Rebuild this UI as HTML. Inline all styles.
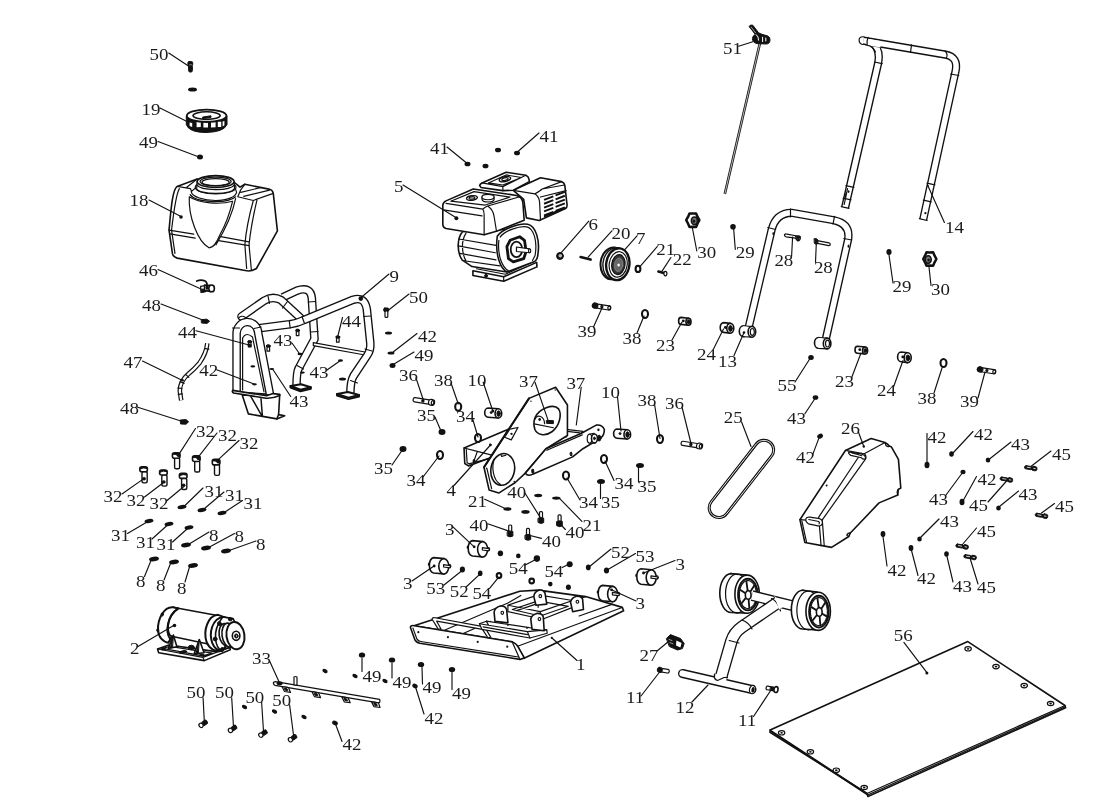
<!DOCTYPE html>
<html lang="en">
<head>
<meta charset="utf-8">
<title>Plate compactor exploded parts diagram</title>
<style>
html,body{margin:0;padding:0;background:#fff;}
body{width:1112px;height:812px;overflow:hidden;font-family:"Liberation Serif",serif;}
svg{display:block;will-change:transform;}
text{font-family:"Liberation Serif",serif;font-size:17.2px;fill:#1c1c1c;}
.k{stroke:#111;stroke-width:1.15;fill:none;stroke-linecap:round;}
.d{fill:#111;stroke:none;}
.r{fill:#fff;stroke:#111;}
#parts *{vector-effect:non-scaling-stroke;stroke-linejoin:round;stroke-linecap:round;}
.p{fill:none;stroke:#111;stroke-width:1.2;}
.pw{fill:#fff;stroke:#111;stroke-width:1.2;}
.pb{fill:#111;stroke:#111;stroke-width:1;}
.t{fill:none;stroke:#222;stroke-width:.8;}
.tw{fill:#fff;stroke:#222;stroke-width:.7;}
.h{fill:none;stroke:#111;stroke-width:1.6;}
.hw{fill:#fff;stroke:#111;stroke-width:1.6;}
</style>
</head>
<body>
<svg width="1112" height="812" viewBox="0 0 1112 812">
<rect width="1112" height="812" fill="#fff"/>
<g id="parts">
<g id="a18_tank">
<g transform="translate(155 165) scale(0.14784)">
<path class="hw" d="M150,145 C118,165 108,300 95,440 L118,600 Q124,622 150,630 L610,714 Q650,724 686,700 L828,446 L800,192 Q796,170 770,163 L608,130 L575,150 L540,120 L285,95 Z"/>
<path class="p" d="M150,145 L240,160 L250,185 M285,95 L215,150 M165,160 C140,200 125,330 112,440 L135,598"/>
<path class="p" d="M608,130 L580,168 L560,215 L665,240 L800,192 M665,240 C640,330 615,450 608,540 L620,700 M690,236 C665,340 645,450 636,540 L652,712 M580,185 L720,152 M600,212 L775,170"/>
<path class="p" d="M95,440 L262,468 M100,466 L272,494 M445,485 L636,520 M430,512 L636,545"/>
<path class="pw" d="M232,215 C225,350 290,520 365,560 C400,560 420,520 440,470 C480,400 510,310 525,245 C440,270 300,260 232,215 Z"/>
<path class="p" d="M545,228 C525,330 485,420 412,540"/>
<path class="pw" d="M245,180 C250,215 330,240 410,240 C490,240 545,215 552,185 L540,150 L280,150 Z"/>
<path class="p" d="M238,200 C270,250 480,270 545,215"/>
<ellipse class="pw" cx="410" cy="150" rx="138" ry="45"/>
<path class="pw" d="M285,112 L282,160 C300,200 510,205 538,160 L535,112 Z"/>
<path class="p" d="M283,135 C310,175 505,180 537,135"/>
<ellipse class="hw" cx="410" cy="112" rx="125" ry="40"/>
<ellipse class="p" cx="410" cy="112" rx="105" ry="30"/>
<ellipse class="p" cx="410" cy="116" rx="92" ry="24"/>
</g>
</g>
<g id="b05_engine">
<g transform="translate(430 165) scale(0.16016)">
<!-- base -->
<path class="hw" d="M268,660 L460,698 L666,608 L668,636 L460,726 L268,690 Z"/>
<path class="p" d="M460,698 L460,726 M290,648 L470,682 L650,600"/>
<ellipse class="pb" cx="350" cy="692" rx="9" ry="9"/>
<!-- crankcase left (finned) -->
<path class="hw" d="M205,415 C170,450 165,540 200,592 L262,634 L480,668 L520,400 Z"/>
<path class="p" d="M180,462 L412,502 M176,505 L408,548 M186,552 L412,592 M212,598 L436,630 M225,425 C195,470 195,545 225,600"/>
<!-- crankcase right face -->
<path class="hw" d="M420,445 C450,400 560,360 610,370 C660,380 690,470 672,570 C668,590 655,602 645,606 L482,668 C440,650 405,560 420,445 Z"/>
<path class="p" d="M438,450 C465,410 560,378 604,386 C648,396 672,475 656,565 L640,596 M430,470 C420,560 450,640 490,660"/>
<!-- PTO flange -->
<path class="hw" style="stroke-width:2.8" d="M500,470 L560,448 L590,470 L600,540 L585,585 L520,605 L490,585 L480,510 Z"/>
<ellipse class="p" style="stroke-width:1.8" cx="540" cy="527" rx="36" ry="48"/>
<path class="pw" d="M540,512 L622,524 L622,548 L540,540 Z"/>
<ellipse class="pw" cx="622" cy="536" rx="7" ry="12"/>
<!-- muffler -->
<path class="hw" d="M520,158 L690,80 L822,104 Q840,110 842,130 L856,250 Q856,266 846,272 L682,346 L602,330 L585,215 Z"/>
<path class="p" d="M520,158 L655,180 Q690,160 700,150 L822,104 M655,180 Q682,200 684,230 L690,344 M700,150 L840,125 M690,200 L850,160"/>
<path class="p" style="stroke-width:1.9;stroke-linecap:butt" d="M712,218 L770,196 M784,190 L842,168 M712,242 L770,220 M784,214 L842,192 M712,266 L770,244 M784,238 L842,216 M712,290 L770,268 M784,262 L842,240 M712,314 L770,292 M784,286 L842,264 M712,322 L846,268"/>
<!-- air filter box -->
<path class="hw" d="M310,128 Q312,118 325,112 L475,45 L598,64 Q615,70 618,88 L620,104 L520,158 L455,160 L318,140 Z"/>
<path class="p" d="M325,112 L455,135 L598,64 M455,135 L455,160 M365,112 L475,62 L570,78 L455,125 Z"/>
<ellipse class="p" style="stroke-width:1.4" cx="468" cy="88" rx="36" ry="15" transform="rotate(-12 468 88)"/>
<ellipse class="p" cx="468" cy="88" rx="20" ry="8" transform="rotate(-12 468 88)"/>
<!-- fuel tank -->
<path class="hw" d="M80,250 Q82,232 100,224 L270,150 L540,190 Q575,200 580,235 L588,345 L420,412 L338,436 L100,396 Q80,390 80,372 Z"/>
<path class="p" d="M100,240 L330,275 Q345,262 360,256 L555,200 M330,275 Q338,290 338,310 L338,436 M360,256 Q395,280 400,320 L415,412 M84,280 L325,318 M130,226 L275,166 L500,200 L345,250 Z"/>
<ellipse class="p" style="stroke-width:1.4" cx="262" cy="206" rx="34" ry="14" transform="rotate(-8 262 206)"/>
<ellipse class="p" cx="262" cy="206" rx="18" ry="7" transform="rotate(-8 262 206)"/>
<path class="pw" d="M325,200 L325,216 C330,236 395,236 400,216 L400,200 Z"/>
<ellipse class="pw" cx="362" cy="200" rx="38" ry="17"/>
</g>
</g>
<g id="c09_frame">
<path d="M282.6,297.3 L297,290.6 Q310.5,286 311.8,298 L314.5,339 L298.6,368.5 Q296.6,372 296.5,386" style="stroke-linecap:butt;stroke-linejoin:round;fill:none;stroke:#111;stroke-width:8.6"/><path d="M282.6,297.3 L297,290.6 Q310.5,286 311.8,298 L314.5,339 L298.6,368.5 Q296.6,372 296.5,386" style="stroke-linecap:butt;stroke-linejoin:round;fill:none;stroke:#fff;stroke-width:5.9"/>
<path class="hw" style="stroke-width:2" d="M290.5,386 L301,384.2 L310.8,387.2 L300.5,389.8 Z"/><path class="h" style="stroke-width:2" d="M290.5,386 L290.5,387.5 L300.5,391.3 L310.8,388.7 L310.8,387.2"/>
<path d="M241.5,316.5 L264,300.8 Q272.5,295.5 281,300 L300,317.5" style="stroke-linecap:round;stroke-linejoin:round;fill:none;stroke:#111;stroke-width:8.6"/><path d="M241.5,316.5 L264,300.8 Q272.5,295.5 281,300 L300,317.5" style="stroke-linecap:round;stroke-linejoin:round;fill:none;stroke:#fff;stroke-width:5.9"/>
<path class="pw" d="M313.3,342.6 L365,352 L365,355 L313.3,345.6 Z"/>
<path d="M259,328.2 L289.7,324.3 Q298,323 304,320 L353,299.8 Q364.5,296 366.8,309 L370.3,343 Q370.8,350 367.5,355 L353.5,376 Q350.5,381 350.3,393.5" style="stroke-linecap:butt;stroke-linejoin:round;fill:none;stroke:#111;stroke-width:8.6"/><path d="M259,328.2 L289.7,324.3 Q298,323 304,320 L353,299.8 Q364.5,296 366.8,309 L370.3,343 Q370.8,350 367.5,355 L353.5,376 Q350.5,381 350.3,393.5" style="stroke-linecap:butt;stroke-linejoin:round;fill:none;stroke:#fff;stroke-width:5.9"/>
<path class="hw" style="stroke-width:2" d="M337,394 L348,392 L359,395 L348.5,397.6 Z"/><path class="h" style="stroke-width:2" d="M337,394 L337,395.5 L348.5,399.1 L359,396.5 L359,395"/>
<path class="pw" d="M236,392 L236,334 A10.8,11.5 0 0 1 257.5,333 L269.4,394 Z"/>
<path d="M236.6,391.5 L236.6,334 A10.8,11.5 0 0 1 258.2,333 L270,394.5" style="stroke-linecap:butt;stroke-linejoin:round;fill:none;stroke:#111;stroke-width:8.6"/><path d="M236.6,391.5 L236.6,334 A10.8,11.5 0 0 1 258.2,333 L270,394.5" style="stroke-linecap:butt;stroke-linejoin:round;fill:none;stroke:#fff;stroke-width:5.9"/>
<path class="p" d="M242.6,390 L242.6,338 Q246,331.5 252.5,337 L264,392"/>
<path class="hw" style="stroke-width:1.6" d="M242.3,395.2 L248.4,413.9 L276.8,418.9 L284.7,415.7 L278.6,414.6 L279.7,394.8 Z"/>
<path class="h" style="stroke-width:1.5" d="M250.9,396.6 L261.7,415.6 M261,398.8 L262.4,416 M278.6,414.6 L276.8,418.9"/>
<path class="hw" style="stroke-width:1.6" d="M232.8,390.4 L266.5,395.8 L273,393.6 L279.7,394.4 L279.7,395.6 Q273,398.6 266,398.2 L233.6,393 Q231.6,391.6 232.8,390.4 Z"/>
<path class="p" d="M232.5,328 L239.5,328 M254,328.5 L261,327 M239,317.5 Q242,315 245.5,317.5 M289.2,320.5 L290.2,328 M302,316.5 L304.5,323.5 M363.5,316.5 L370.5,316 M365,349 L372,351 M350.5,380.5 L357.5,383 M308.3,302 L315.5,301.5 M310.5,332 L318,331.5 M297,365.5 L303.5,369 M268,296 L269.5,303.5 M287.5,301.5 L282.5,308"/>
<path class="pw" d="M248.39999999999998,342.3 L248.39999999999998,346.90000000000003 L251.0,346.90000000000003 L251.0,342.3"/><ellipse class="pb" cx="249.7" cy="341.7" rx="2" ry="1.3"/>
<path class="pw" d="M267.0,346.6 L267.0,351.20000000000005 L269.6,351.20000000000005 L269.6,346.6"/><ellipse class="pb" cx="268.3" cy="346.0" rx="2" ry="1.3"/>
<path class="pw" d="M296.3,331 L296.3,335.6 L298.90000000000003,335.6 L298.90000000000003,331"/><ellipse class="pb" cx="297.6" cy="330.4" rx="2" ry="1.3"/>
<path class="pw" d="M336.5,337.6 L336.5,342.20000000000005 L339.1,342.20000000000005 L339.1,337.6"/><ellipse class="pb" cx="337.8" cy="337.0" rx="2" ry="1.3"/>
<ellipse class="d" cx="249.7" cy="345.5" rx="2" ry="1.8"/>
<ellipse class="d" cx="252.8" cy="366.4" rx="2.4" ry="1.1"/>
<ellipse class="d" cx="254.5" cy="384.3" rx="2.4" ry="1.1"/>
<ellipse class="d" cx="302.4" cy="372.6" rx="2.4" ry="1.1"/>
<ellipse class="d" cx="271.7" cy="369" rx="2.4" ry="1.1"/>
</g>
<g id="d04_bracket">
<g transform="translate(450 400) scale(0.14771)">
<!-- left channel box -->
<path class="hw" d="M95,325 L395,198 L300,380 L165,432 L125,446 L100,430 Z"/>
<path class="p" d="M110,335 L116,425 L128,432 M95,325 L185,348 L290,375 M185,348 L160,420 M128,432 L285,392"/>
<path class="pb" d="M158,405 q8,-8 10,4 l-2,16 q-6,6 -8,-2 z"/>
<ellipse class="d" cx="272" cy="302" rx="7" ry="7"/>
<!-- main plate -->
<path class="hw" d="M535,-11 L715,-86 L795,34 L795,240 L650,330 L510,495 L440,560 L330,630 L265,610 L230,455 Z"/>
<path class="h" style="stroke-width:2" d="M535,-11 L230,455"/>
<path class="p" d="M250,465 L282,600"/>
<path class="pw" d="M405,197 L460,186 L415,270 L370,252 Z"/>
<path class="pb" d="M412,228 l8,-4 l0,8 z"/>
<!-- upper window -->
<path class="hw" d="M575,120 C600,60 700,20 735,60 C760,100 740,180 690,215 C640,250 590,235 575,200 C565,170 565,150 575,120 Z"/>
<path class="p" d="M570,162 L700,188 M575,130 C590,90 640,110 640,160"/>
<ellipse class="d" cx="607" cy="132" rx="9" ry="10"/>
<path class="pb" d="M655,138 L700,140 L700,160 L655,158 Z"/>
<!-- lower round hole -->
<ellipse class="hw" cx="357" cy="470" rx="80" ry="108" transform="rotate(10 357 470)"/>
<path class="p" d="M300,400 C280,450 290,540 340,570 M345,372 L350,382 L378,374"/>
<ellipse class="d" cx="247" cy="462" rx="5" ry="5"/><ellipse class="d" cx="435" cy="552" rx="5" ry="5"/><ellipse class="d" cx="548" cy="8" rx="5" ry="5"/><ellipse class="d" cx="712" cy="-68" rx="5" ry="5"/><ellipse class="d" cx="785" cy="250" rx="5" ry="5"/>
<!-- arm -->
<path class="hw" d="M650,330 L890,225 L990,170 Q1030,165 1045,200 Q1045,240 1020,258 L900,330 L830,385 L560,502 Q525,520 510,495 Z"/>
<path class="p" d="M655,340 L895,236 M800,200 L900,212 L890,225 M795,212 L880,222"/>
<path class="pb" d="M555,470 q10,-8 12,4 l0,20 q-8,6 -12,-2 z M815,355 q8,-8 10,4 l0,18 q-6,6 -10,-2 z"/>
<ellipse class="d" cx="1005" cy="202" rx="8" ry="9"/>
<ellipse class="pb" cx="1010" cy="258" rx="12" ry="20"/>
<path class="pw" d="M940,232 L975,225 L985,290 L950,292 Z"/>
<ellipse class="pw" cx="945" cy="262" rx="16" ry="30"/>
<ellipse class="hw" cx="978" cy="260" rx="20" ry="30"/>
<ellipse class="pb" cx="978" cy="260" rx="6" ry="9"/>
</g>
</g>
<g id="e01_base">
<g transform="translate(400 575) scale(0.21583)">
<!-- main plate -->
<path class="hw" d="M65,235 L555,75 L640,70 L860,100 L1030,150 L1036,166 L575,386 L545,330 L520,310 Z"/>
<path class="p" d="M545,330 L1026,152 M200,258 L500,130 M290,272 L420,215 M830,190 L985,135 M860,100 L700,150 M500,130 L560,95"/>
<!-- front lip -->
<path class="hw" d="M48,242 Q50,232 66,235 L520,310 Q538,316 545,330 L576,384 L556,391 L92,316 Q74,312 68,298 Z"/>
<path class="p" d="M60,246 L78,296 Q84,306 96,308 L548,380 M520,310 L556,391"/>
<ellipse class="d" cx="85" cy="265" rx="5" ry="5"/><ellipse class="d" cx="222" cy="288" rx="5" ry="5"/><ellipse class="d" cx="360" cy="310" rx="5" ry="5"/><ellipse class="d" cx="497" cy="332" rx="5" ry="5"/>
<ellipse class="d" cx="703" cy="291" rx="5" ry="5"/>
<!-- guard rail -->
<path class="pw" d="M148,204 Q150,196 162,198 L392,240 L420,288 L408,292 L382,252 L170,214 L190,250 L178,252 Z"/>
<!-- rear frame -->
<path class="pw" d="M500,140 L640,92 L800,118 L800,150 L660,205 L500,170 Z"/>
<path class="p" d="M520,160 L640,120 L780,145 L650,190 Z M540,165 L650,128 M640,120 L640,150 M500,140 L650,170 L800,118 M650,170 L650,190"/>
<!-- front block -->
<path class="pw" d="M368,226 L400,214 L600,244 L680,254 L682,270 L602,292 L380,252 Z"/>
<path class="p" d="M368,226 L590,262 L680,254 M590,262 L602,292 M400,214 L410,232 M385,240 L590,276"/>
<ellipse class="d" cx="402" cy="216" rx="4" ry="4"/><ellipse class="d" cx="500" cy="232" rx="4" ry="4"/><ellipse class="d" cx="588" cy="246" rx="4" ry="4"/>
<!-- lugs -->
<path class="hw" d="M620,100 Q622,78 645,70 Q665,66 672,84 L680,135 L630,140 Z"/><ellipse class="p" cx="650" cy="98" rx="6" ry="7"/>
<path class="hw" d="M790,125 Q795,104 818,98 Q840,96 846,112 L850,160 L800,170 Z"/><ellipse class="p" cx="822" cy="124" rx="6" ry="7"/>
<path class="hw" d="M436,172 Q440,150 465,144 Q488,142 494,160 L500,222 L440,215 Z"/><ellipse class="p" cx="474" cy="175" rx="6" ry="7"/>
<path class="hw" d="M606,204 Q610,184 634,178 Q660,176 664,196 L668,258 L612,252 Z"/><ellipse class="p" cx="646" cy="204" rx="6" ry="7"/>
</g>
</g>
<g id="f02_motor">
<g transform="translate(150 595) scale(0.09443)">
<!-- base -->
<path class="hw" d="M80,572 L200,530 L700,600 L845,555 L850,580 L575,695 L92,612 Z"/>
<path class="p" d="M80,572 L560,660 L845,555 M560,660 L575,695 M130,565 L210,545 L660,615 L560,645 Z"/>
<ellipse class="pb" cx="140" cy="572" rx="22" ry="10"/><ellipse class="pb" cx="350" cy="604" rx="40" ry="14" transform="rotate(-12 350 604)"/><ellipse class="pb" cx="548" cy="634" rx="22" ry="10"/>
<ellipse class="pb" cx="438" cy="556" rx="32" ry="24"/>
<!-- body -->
<path class="hw" style="stroke:none" d="M240,130 L700,215 L660,540 L200,440 Z"/>
<path class="h" d="M240,130 L700,215 M215,435 L640,525"/>
<!-- left end cap -->
<path class="hw" style="stroke-width:2" d="M245,130 C150,120 80,250 85,370 C90,450 140,500 195,505 L230,440 C170,420 165,230 300,142 Z"/>
<path class="h" style="stroke-width:1.8" d="M300,142 C190,210 150,380 215,470"/>
<ellipse class="pb" cx="130" cy="205" rx="12" ry="18"/><ellipse class="pb" cx="82" cy="372" rx="10" ry="18"/>
<!-- gussets -->
<path class="hw" d="M248,425 L195,565 L285,548 Z M522,472 L468,622 L572,612 Z"/>
<path class="pb" d="M248,425 L215,560 L235,558 Z M522,472 L488,618 L508,616 Z"/>
<!-- right flange -->
<path class="hw" style="stroke-width:2" d="M720,210 C610,220 560,380 600,500 C630,580 700,600 740,595 L800,560 L800,240 Z"/>
<path class="h" style="stroke-width:2" d="M770,232 C660,250 620,400 660,510 C680,560 720,590 760,592"/>
<path class="hw" d="M770,232 L880,250 L900,290 L800,540 L760,592 C700,560 640,400 770,232 Z"/>
<ellipse class="pb" cx="735" cy="302" rx="20" ry="20"/><ellipse class="pb" cx="690" cy="466" rx="20" ry="20"/><ellipse class="pb" cx="766" cy="576" rx="20" ry="20"/><ellipse class="pb" cx="850" cy="256" rx="20" ry="18"/>
<!-- pulley -->
<ellipse class="hw" cx="800" cy="420" rx="68" ry="118" transform="rotate(-8 800 420)"/>
<ellipse class="hw" cx="835" cy="425" rx="72" ry="128" transform="rotate(-8 835 425)"/>
<ellipse class="hw" style="stroke-width:2" cx="905" cy="430" rx="95" ry="145" transform="rotate(-8 905 430)"/>
<ellipse class="h" cx="912" cy="432" rx="40" ry="48"/>
<ellipse class="pb" cx="914" cy="434" rx="18" ry="22"/>
<ellipse cx="916" cy="434" rx="6" ry="8" fill="#fff"/>
</g>
</g>
<g id="g33_bar">
<path class="pw" d="M273.5,682.2 Q273,684.5 275,685.3 L378.5,702.8 Q380,702.6 380,701 L379.6,699.4 L275.5,681.6 Z"/>
<path class="pw" d="M294,677 Q295.5,676 297,677 L297,685.3 L294,684.8 Z"/>
<path class="pw" d="M282,686.6 L284.5,691.5 L290.5,692.4 L288.5,687.6 Z M312,691.7 L314.5,696.7 L320.5,697.6 L318.5,692.8 Z M341.7,696.8 L344.2,701.8 L350.2,702.7 L348.2,697.9 Z M371.5,701.8 L374,706.6 L380,707.5 L378.5,702.9 Z"/>
<path class="pb" d="M284.6,688.3 l2.4,.4 l.8,1.9 l-2.4,-.4 z M314.6,693.4 l2.4,.4 l.8,1.9 l-2.4,-.4 z M344.3,698.5 l2.4,.4 l.8,1.9 l-2.4,-.4 z M374.1,703.4 l2.4,.4 l.8,1.9 l-2.4,-.4 z"/>
<ellipse class="d" cx="279.6" cy="683.2" rx="3" ry="2"/>
</g>
<g id="h25_belt">
<g transform="translate(741.4 478.9) rotate(37.9)">
<rect x="-9.7" y="-46.4" width="19.4" height="92.8" rx="9.7" fill="none" stroke="#111" stroke-width="3"/>
<rect x="-9.7" y="-46.4" width="19.4" height="92.8" rx="9.7" fill="none" stroke="#fff" stroke-width="1"/>
<rect x="-9.1" y="-45.8" width="18.2" height="91.6" rx="9.1" fill="none" stroke="#111" stroke-width=".4"/>
</g>
</g>
<g id="i26_cover">
<g transform="translate(700 400) scale(0.19784)">
<path class="hw" d="M505,605 L735,255 L865,195 L935,215 Q950,222 956,232 L968,238 L1003,300 L1015,445 L1002,452 L1000,480 L905,520 L760,672 L752,690 L665,745 L530,720 Z"/>
<path class="p" d="M735,255 L830,272 L935,215 M830,272 Q842,280 838,296 L618,606 L628,738 M815,268 L600,592 L612,736 M505,605 L600,612 L618,606 M515,612 L538,716 M935,215 L940,230 Q950,240 958,234 M1002,452 Q992,462 1000,480 M760,672 Q745,672 742,684 L752,690"/>
<path class="pw" d="M752,262 L820,274 Q840,282 836,298 Q822,300 816,292 L762,280 Q748,272 752,262 Z"/>
<path class="p" d="M765,266 L818,282"/>
<path class="pw" d="M535,600 Q540,590 555,592 L605,600 Q622,606 618,626 Q610,640 596,636 L548,626 Q532,616 535,600 Z"/>
<path class="p" d="M550,604 L600,614 Q606,618 602,626"/>
<ellipse class="d" cx="640" cy="432" rx="5" ry="5"/>
</g>
</g>
<g id="j12_wheels">
<g transform="translate(650 560) scale(0.17986)"><ellipse class="hw" cx="452" cy="184" rx="64" ry="108"/><path class="pw" d="M452,76 L540,84 L540,296 L452,292 Z" style="stroke:none"/><path class="h" d="M447,76 L535,83 M457,292 L545,296"/><ellipse class="p" cx="484.0" cy="187.0" rx="64" ry="108"/><ellipse class="hw" cx="540" cy="190" rx="68" ry="106"/><ellipse class="h" style="stroke-width:2" cx="544" cy="192" rx="54" ry="88"/><ellipse class="p" style="stroke-dasharray:1.2 1" cx="544" cy="192" rx="47" ry="78"/><path class="h" style="stroke-width:1.8" d="M546,194 L585,217"/><path class="h" style="stroke-width:1.8" d="M546,194 L552,265"/><path class="h" style="stroke-width:1.8" d="M546,194 L510,240"/><path class="h" style="stroke-width:1.8" d="M546,194 L503,167"/><path class="h" style="stroke-width:1.8" d="M546,194 L536,119"/><path class="h" style="stroke-width:1.8" d="M546,194 L578,144"/><ellipse class="hw" cx="546" cy="194" rx="16" ry="24"/></g>
<path d="M752,595.6 L799,607.2" style="stroke-linecap:butt;stroke-linejoin:round;fill:none;stroke:#111;stroke-width:10.8"/><path d="M752,595.6 L799,607.2" style="stroke-linecap:butt;stroke-linejoin:round;fill:none;stroke:#fff;stroke-width:8.1"/>
<path d="M720.5,679 L731.3,641.5 Q734,632.5 742,627 L778.5,602" style="stroke-linecap:butt;stroke-linejoin:round;fill:none;stroke:#111;stroke-width:12.8"/><path d="M720.5,679 L731.3,641.5 Q734,632.5 742,627 L778.5,602" style="stroke-linecap:butt;stroke-linejoin:round;fill:none;stroke:#fff;stroke-width:10.1"/>
<path class="p" d="M771.5,598.5 Q778,601.5 780.5,611 M742,620 Q749,622.5 752,629 M729.2,640.5 L739,643"/>
<path d="M774,595 L783,607 L779,609.5" fill="#fff" stroke="none"/>
<g transform="translate(650 560) scale(0.17986)"><ellipse class="hw" cx="850" cy="276" rx="64" ry="108"/><path class="pw" d="M850,168 L935,179 L935,391 L850,384 Z" style="stroke:none"/><path class="h" d="M845,168 L930,178 M855,384 L940,391"/><ellipse class="p" cx="880.5" cy="280.5" rx="64" ry="108"/><ellipse class="hw" cx="935" cy="285" rx="68" ry="106"/><ellipse class="h" style="stroke-width:2" cx="939" cy="287" rx="54" ry="88"/><ellipse class="p" style="stroke-dasharray:1.2 1" cx="939" cy="287" rx="47" ry="78"/><path class="h" style="stroke-width:1.8" d="M941,289 L980,312"/><path class="h" style="stroke-width:1.8" d="M941,289 L947,360"/><path class="h" style="stroke-width:1.8" d="M941,289 L905,335"/><path class="h" style="stroke-width:1.8" d="M941,289 L898,262"/><path class="h" style="stroke-width:1.8" d="M941,289 L931,214"/><path class="h" style="stroke-width:1.8" d="M941,289 L973,239"/><ellipse class="hw" cx="941" cy="289" rx="16" ry="24"/></g>
<path d="M682.5,673.5 L752,689.5" style="stroke-linecap:round;stroke-linejoin:round;fill:none;stroke:#111;stroke-width:9"/><path d="M682.5,673.5 L752,689.5" style="stroke-linecap:round;stroke-linejoin:round;fill:none;stroke:#fff;stroke-width:6.3"/>
<ellipse class="pw" cx="752.5" cy="689.6" rx="3" ry="4.2" transform="rotate(10 752.5 689.6)"/><ellipse class="d" cx="753" cy="689.8" rx="1.6" ry="2.8" transform="rotate(10 753 689.8)"/>
<path d="M715.5,673.8 L727,676.5 L726,681.5 L714.5,679 Z" fill="#fff" stroke="none"/>
<path class="p" d="M714.5,674 Q713.5,679.5 717.5,680.5 Q721,679 724,677.5 L727.5,677.3"/>
</g>
<g id="k13_handles">
<path d="M845.1,207.5 L878.3,62.5 Q880.5,52 874,43.5" style="stroke-linecap:butt;stroke-linejoin:round;fill:none;stroke:#111;stroke-width:8.2"/><path d="M845.1,207.5 L878.3,62.5 Q880.5,52 874,43.5" style="stroke-linecap:butt;stroke-linejoin:round;fill:none;stroke:#fff;stroke-width:5.5"/>
<path d="M863.3,40.6 L945.5,54.6 Q958.5,57 955.6,71 L923.2,219.6" style="stroke-linecap:butt;stroke-linejoin:round;fill:none;stroke:#111;stroke-width:8.2"/><path d="M863.3,40.6 L945.5,54.6 Q958.5,57 955.6,71 L923.2,219.6" style="stroke-linecap:butt;stroke-linejoin:round;fill:none;stroke:#fff;stroke-width:5.5"/>
<path class="pw" d="M863.8,36.8 Q859.1,36.4 859.1,40 Q859.1,43.8 862.8,44.5"/>
<path d="M866,38.5 L881.3,41.2 L880.3,47.4 L866,45 Z" fill="#fff" stroke="none"/>
<path class="p" d="M866,44.8 Q873,46 875.5,52 M868,37.4 Q866.5,41 867.2,44.8 M911.5,44.8 L910.5,52.5 M874.4,62 L882.2,63.6 M950.6,74 L958.8,75.5 M945,51 Q948.5,54.5 946.2,58.2 M845.9,185.6 L853.9,187.4 M927,183.1 L934.9,184.9 M843.1,198.1 L851,199.9 M923.3,200.1 L931.2,201.9 M841.2,206.6 L849,208.4 M919.3,218.7 L927.1,220.5"/>
<ellipse class="d" cx="848.6" cy="191.6" rx=".9" ry="1.3"/><ellipse class="d" cx="925.4" cy="213.2" rx="1.1" ry="1.1"/><path class="p" d="M847.6,188.5 L844.2,204.5 M846,193 L844.8,199"/>
<path d="M748.4,328.5 L771.7,229.5 Q776,213 791.5,212.8 L834,220.3 Q851,224 848,240 L825.6,340" style="stroke-linecap:butt;stroke-linejoin:round;fill:none;stroke:#111;stroke-width:8.2"/><path d="M748.4,328.5 L771.7,229.5 Q776,213 791.5,212.8 L834,220.3 Q851,224 848,240 L825.6,340" style="stroke-linecap:butt;stroke-linejoin:round;fill:none;stroke:#fff;stroke-width:5.5"/>
<path class="p" d="M790.5,208.8 L790.5,216.8 M834.5,216.4 L833,224.2 M767.8,227.5 L775.6,229.5 M843.8,238.5 L851.8,240"/>
<ellipse class="d" cx="773.2" cy="233.6" rx=".8" ry="1.6"/><ellipse class="d" cx="848.4" cy="246.2" rx=".8" ry="1.6"/>
<path class="pw" d="M743.5,325.9 L751.5,326.5 L751.5,337.1 L743.5,336.5 Z" style="stroke:none"/><ellipse class="hw" cx="743.5" cy="331.2" rx="4.2" ry="5.4"/><path class="pw" d="M743.5,325.8 L751.9,326.5 L751.9,337.2 L743.5,336.6" /><path d="M743.1,326.3 L747.5,326.7 L747.5,336.3 L743.1,336.1 Z" fill="#fff" stroke="none"/><ellipse class="hw" cx="751.9" cy="331.8" rx="3.8" ry="5.4"/><ellipse class="p" cx="752.3" cy="331.9" rx="2" ry="3.4"/>
<path class="pw" d="M818.7,337.59999999999997 L826.7,338.2 L826.7,348.8 L818.7,348.2 Z" style="stroke:none"/><ellipse class="hw" cx="818.7" cy="342.9" rx="4.2" ry="5.4"/><path class="pw" d="M818.7,337.5 L827.1,338.2 L827.1,348.9 L818.7,348.3" /><path d="M818.3000000000001,338.0 L822.7,338.4 L822.7,348.0 L818.3000000000001,347.8 Z" fill="#fff" stroke="none"/><ellipse class="hw" cx="827.1" cy="343.5" rx="3.8" ry="5.4"/><ellipse class="p" cx="827.5" cy="343.59999999999997" rx="2" ry="3.4"/>
<ellipse class="d" cx="744" cy="332.5" rx="1.3" ry="1.3"/>
</g>
<g id="m_smalls">
<path class="hw" d="M967.8,641.6 L1065,705.5 L1065.6,707.8 L867.9,796.4 L867,793.5 L770,732.2 L770.1,729.9 Z"/>
<path class="p" d="M770.1,729.9 L867,793.5 L1065,705.5 M771,731.5 L867.6,795 L1065.4,706.8"/>
<ellipse class="pw" cx="968.1" cy="648.8" rx="3.2" ry="2.2"/><ellipse class="d" cx="968.1" cy="648.8" rx="1.3" ry=".9"/>
<ellipse class="pw" cx="996" cy="666.6" rx="3.2" ry="2.2"/><ellipse class="d" cx="996" cy="666.6" rx="1.3" ry=".9"/>
<ellipse class="pw" cx="1024.2" cy="685.6" rx="3.2" ry="2.2"/><ellipse class="d" cx="1024.2" cy="685.6" rx="1.3" ry=".9"/>
<ellipse class="pw" cx="1050.6" cy="703.5" rx="3.2" ry="2.2"/><ellipse class="d" cx="1050.6" cy="703.5" rx="1.3" ry=".9"/>
<ellipse class="pw" cx="781.6" cy="732.8" rx="3.2" ry="2.2"/><ellipse class="d" cx="781.6" cy="732.8" rx="1.3" ry=".9"/>
<ellipse class="pw" cx="810.4" cy="751.8" rx="3.2" ry="2.2"/><ellipse class="d" cx="810.4" cy="751.8" rx="1.3" ry=".9"/>
<ellipse class="pw" cx="836.3" cy="770.2" rx="3.2" ry="2.2"/><ellipse class="d" cx="836.3" cy="770.2" rx="1.3" ry=".9"/>
<ellipse class="pw" cx="864.2" cy="787.5" rx="3.2" ry="2.2"/><ellipse class="d" cx="864.2" cy="787.5" rx="1.3" ry=".9"/>
<path d="M760.3,41.5 L724.8,194" style="stroke:#111;stroke-width:2.6;fill:none;stroke-linecap:butt"/><path d="M760.3,41.5 L724.8,194" style="stroke:#fff;stroke-width:.7;fill:none;stroke-linecap:butt"/>
<path class="pb" d="M749.2,26.2 Q750.5,24.4 752.8,25.2 L758.6,32.8 Q762,34.6 765,35.2 Q770,35.8 770,39.8 Q770,44.2 765.5,44 L757,43.6 Q752.4,42.6 752.4,38.6 Q752.6,35.6 755,34.4 Z"/>
<path d="M756.2,34.6 Q758.8,36.4 758.6,40.2 M762.6,37.2 L762.6,41.6 M765.8,38 L765.8,41" style="stroke:#fff;stroke-width:1;fill:none"/><path d="M751.3,27.2 L755.6,32.8" style="stroke:#fff;stroke-width:.6;fill:none"/>
<rect class="pb" x="187.9" y="61.6" width="4.8" height="4" rx="1.2"/><rect class="pb" x="188.6" y="65" width="3.8" height="7" rx="1.4"/><path d="M189.6,64.8 L191.6,64.8" style="stroke:#fff;stroke-width:.5"/>
<path class="pb" d="M186.3,116 L186.3,124.5 Q189,132.5 206,132.5 Q224,132 227,124.5 L227,116 Z"/>
<path d="M196.6,121.6 L200.79999999999998,121.8 L200.79999999999998,127.0 L196.6,127.2 Z" fill="#fff"/>
<path d="M203.4,121.6 L208.0,121.8 L208.0,127.4 L203.4,127.6 Z" fill="#fff"/>
<path d="M211,121.6 L215.6,121.8 L215.6,127.3 L211,127.5 Z" fill="#fff"/>
<path d="M217.8,121.6 L221.20000000000002,121.8 L221.20000000000002,126.9 L217.8,127.1 Z" fill="#fff"/>
<path d="M189.6,122.4 l2.6,.6 l0,4 l-2.6,-1 z M222.6,121.6 l1.8,-.6 l0,4.4 l-1.8,.8 z" fill="#fff"/>
<ellipse class="hw" style="stroke-width:1.8" cx="206.6" cy="115.8" rx="19.8" ry="6.2"/>
<ellipse class="p" style="stroke-width:1.6" cx="206.6" cy="115.6" rx="13.6" ry="3.8"/>
<path class="pb" d="M203,117 L211,115.8 L211,117.4 L203,118.6 Z"/>
<path class="h" style="stroke-width:1.8" d="M196.8,281 Q201,279 205.5,281.2 Q207.5,283 207,286"/>
<path class="pw" d="M200.6,286.4 L205.2,285.6 L205.6,291.6 L201,292.4 Z"/><ellipse class="pb" cx="203" cy="290.6" rx="2" ry="1.6"/>
<path class="hw" d="M204.6,285 L211,285.6 L211,291.4 L204.6,290.6 Z"/><ellipse class="hw" style="stroke-width:1.6" cx="211.6" cy="288.4" rx="2.8" ry="3.4"/><ellipse class="d" cx="207" cy="287.6" rx="1.4" ry="2.4"/>
<path d="M207.3,343.2 Q206.5,353 199.5,363 Q194,369.5 188.8,373.6 Q180,381 179.8,391 L181.2,400.4" style="stroke-linecap:butt;stroke-linejoin:round;fill:none;stroke:#111;stroke-width:4.6"/><path d="M207.3,343.2 Q206.5,353 199.5,363 Q194,369.5 188.8,373.6 Q180,381 179.8,391 L181.2,400.4" style="stroke-linecap:butt;stroke-linejoin:round;fill:none;stroke:#fff;stroke-width:2.2"/>
<path class="p" d="M205,348.6 L208.8,349.2 M185.6,374.4 L188.8,377.4 M180.2,381.6 L184,383.4 M177.8,388 L181.8,388.4 M178.2,394.4 L182.2,393.8"/><ellipse class="d" cx="182.5" cy="380.2" rx="1.3" ry="1.3"/>
<rect class="hw" style="stroke-width:1.4" x="174.6" y="457.4" width="5" height="11.4" rx="1.6"/><rect class="hw" x="172.4" y="452.7" width="7.6" height="5.6" rx="2"/><path class="pb" d="M173,454.0 Q176,451.59999999999997 179.6,453.4 L179.8,456.0 Q177.6,457.79999999999995 176.4,454.79999999999995 Z"/>
<rect class="hw" style="stroke-width:1.4" x="194.7" y="460.6" width="5" height="11.4" rx="1.6"/><rect class="hw" x="192.5" y="455.90000000000003" width="7.6" height="5.6" rx="2"/><path class="pb" d="M193.1,457.20000000000005 Q196.1,454.8 199.7,456.6 L199.9,459.20000000000005 Q197.7,461.0 196.5,458.0 Z"/>
<rect class="hw" style="stroke-width:1.4" x="214.5" y="464" width="5" height="11.4" rx="1.6"/><rect class="hw" x="212.3" y="459.3" width="7.6" height="5.6" rx="2"/><path class="pb" d="M212.9,460.6 Q215.9,458.2 219.5,460 L219.70000000000002,462.6 Q217.5,464.4 216.3,461.4 Z"/>
<rect class="hw" style="stroke-width:1.4" x="142.0" y="471.5" width="5.2" height="11.4" rx="1.8"/><rect class="hw" x="139.8" y="466.8" width="7.6" height="5" rx="2"/><path class="pb" d="M140.20000000000002,468.1 Q143.4,465.5 147.20000000000002,467.9 L147.0,468.5 Q143.4,467.1 140.4,468.9 Z"/><ellipse class="d" cx="144.0" cy="478.7" rx="1.9" ry="1.7"/>
<rect class="hw" style="stroke-width:1.4" x="161.79999999999998" y="474.7" width="5.2" height="11.4" rx="1.8"/><rect class="hw" x="159.6" y="470.0" width="7.6" height="5" rx="2"/><path class="pb" d="M160.0,471.3 Q163.2,468.7 167.0,471.09999999999997 L166.79999999999998,471.7 Q163.2,470.3 160.2,472.09999999999997 Z"/><ellipse class="d" cx="163.79999999999998" cy="481.9" rx="1.9" ry="1.7"/>
<rect class="hw" style="stroke-width:1.4" x="181.6" y="478.1" width="5.2" height="11.4" rx="1.8"/><rect class="hw" x="179.4" y="473.40000000000003" width="7.6" height="5" rx="2"/><path class="pb" d="M179.8,474.70000000000005 Q183,472.1 186.8,474.5 L186.6,475.1 Q183,473.70000000000005 180,475.5 Z"/><ellipse class="d" cx="183.6" cy="485.3" rx="1.9" ry="1.7"/>
<ellipse class="pb" cx="560" cy="256" rx="3.4" ry="3.5"/><ellipse cx="560.3" cy="255.8" rx="1.8" ry="1.7" fill="#bbb"/>
<path d="M580.6,257 L590.6,259.6" style="stroke:#111;stroke-width:2.6;stroke-linecap:round"/>
<ellipse class="hw" style="stroke-width:2" cx="612.6" cy="263.4" rx="12" ry="16" transform="rotate(8 612.6 263.4)"/>
<ellipse class="hw" style="stroke-width:1.4" cx="614.8" cy="263.8" rx="11.8" ry="16" transform="rotate(8 614.8 263.8)"/>
<ellipse class="hw" style="stroke-width:2.4" cx="617.8" cy="264.2" rx="11.6" ry="16" transform="rotate(8 617.8 264.2)"/>
<ellipse class="p" style="stroke-width:1.2" cx="618.2" cy="264.4" rx="9" ry="12.8" transform="rotate(8 618.2 264.4)"/>
<ellipse cx="618.4" cy="264.6" rx="6.6" ry="10" transform="rotate(8 618.4 264.6)" style="fill:#333;stroke:#111;stroke-width:1.2"/>
<ellipse cx="618.6" cy="264.8" rx="4.2" ry="6.8" transform="rotate(8 618.6 264.8)" style="fill:#666;stroke:#999;stroke-width:.6"/>
<ellipse cx="618.6" cy="265" rx="1.3" ry="1.6" fill="#fff"/>
<path d="M658.4,271.6 L665.6,273.6" style="stroke:#111;stroke-width:2.6;stroke-linecap:round"/><ellipse class="r" cx="665.4" cy="273.6" rx="1.5" ry="2.2" stroke-width="1.2"/>
<polygon class="hw" style="stroke-width:2.5" points="699.4,220.2 697.6,223.5 696.1,227.0 692.8,226.8 689.5,227.0 688.0,223.5 686.2,220.2 688.0,216.9 689.5,213.4 692.8,213.6 696.1,213.4 697.6,216.9"/>
<ellipse cx="694.4" cy="220.79999999999998" rx="3" ry="3.8" style="fill:#777;stroke:#111;stroke-width:1.6"/>
<ellipse class="d" cx="694.0" cy="221.2" rx="1.3" ry="1.6"/>
<polygon class="hw" style="stroke-width:2.5" points="936.4,259.0 934.6,262.3 933.1,265.8 929.8,265.6 926.5,265.8 925.0,262.3 923.2,259.0 925.0,255.7 926.5,252.2 929.8,252.4 933.1,252.2 934.6,255.7"/>
<ellipse cx="928.1999999999999" cy="259.6" rx="3" ry="3.8" style="fill:#777;stroke:#111;stroke-width:1.6"/>
<ellipse class="d" cx="928.5999999999999" cy="260" rx="1.3" ry="1.6"/>
<path class="pw" d="M784.4,234.6 Q785.6,233.6 787,234.2 L797,236 Q800.6,235.4 800.4,238 Q799.6,241.2 797.6,240.8 Q796,239.2 795.6,238.2 L786,236.8 Q784.2,236 784.4,234.6 Z"/><path class="pb" d="M795.6,236 L800.2,236.4 L797.8,240.6 Z"/>
<path class="pw" d="M816,240.4 L829,242.8 Q830.8,243.6 830.2,245 Q829,246 827.6,245.4 L816,243.2 Z"/><path class="pb" d="M814.4,238.6 Q817.6,238 818,240.6 L817.8,243.6 Q816,245 814.6,243.6 Z"/>
<g transform="translate(592.4 305.2) rotate(9)"><rect class="pw" x="0" y="-2" width="18.6" height="4.2" rx="2"/><rect class="pb" x="0" y="-2.6" width="5.6" height="5.2" rx="2"/><ellipse class="d" cx="9.6" cy="0" rx="1.6" ry="1.6"/><ellipse class="p" cx="17" cy="0" rx="1.3" ry="2"/></g>
<g transform="translate(977.4 369) rotate(9)"><rect class="pw" x="0" y="-2" width="18.6" height="4.2" rx="2"/><rect class="pb" x="0" y="-2.6" width="5.6" height="5.2" rx="2"/><ellipse class="d" cx="9.6" cy="0" rx="1.6" ry="1.6"/><ellipse class="p" cx="17" cy="0" rx="1.3" ry="2"/></g>
<g transform="translate(413.2 399.4) rotate(9)"><rect class="pw" x="0" y="-2" width="19" height="4.2" rx="1.6"/><rect class="pw" x="15.6" y="-2.8" width="6" height="5.8" rx="2.4"/><ellipse class="d" cx="9.8" cy="0" rx="1.7" ry="1.7"/><ellipse class="p" cx="19.6" cy="0.2" rx="1.2" ry="2"/></g>
<g transform="translate(681.2 443) rotate(9)"><rect class="pw" x="0" y="-2" width="19" height="4.2" rx="1.6"/><rect class="pw" x="15.6" y="-2.8" width="6" height="5.8" rx="2.4"/><ellipse class="d" cx="9.8" cy="0" rx="1.7" ry="1.7"/><ellipse class="p" cx="19.6" cy="0.2" rx="1.2" ry="2"/></g>
<path class="hw" d="M681.12,317.4 L688.48,318.2 L688.48,325.2 L681.12,324.4 A2.52,3.5 0 0 1 681.12,317.4 Z"/>
<ellipse class="hw" cx="688.48" cy="321.7" rx="2.52" ry="3.5"/>
<ellipse class="pb" cx="688.6800000000001" cy="321.9" rx="1.3" ry="2.1"/>
<ellipse class="d" cx="683.312" cy="320.9" rx="1.4" ry="1.4"/>
<path class="hw" d="M857.52,346.2 L865.08,347.0 L865.08,354.0 L857.52,353.2 A2.52,3.5 0 0 1 857.52,346.2 Z"/>
<ellipse class="hw" cx="865.08" cy="350.5" rx="2.52" ry="3.5"/>
<ellipse class="pb" cx="865.2800000000001" cy="350.7" rx="1.3" ry="2.1"/>
<ellipse class="d" cx="859.788" cy="349.7" rx="1.4" ry="1.4"/>
<path class="hw" d="M723.7280000000001,322.6 L730.272,323.40000000000003 L730.272,333.20000000000005 L723.7280000000001,332.40000000000003 A3.528,4.9 0 0 1 723.7280000000001,322.6 Z"/>
<ellipse class="hw" cx="730.272" cy="328.3" rx="3.528" ry="4.9"/>
<ellipse class="pb" cx="730.4720000000001" cy="328.5" rx="1.8" ry="2.9"/>
<ellipse class="d" cx="725.368" cy="327.5" rx="1.4" ry="1.4"/>
<path class="hw" d="M901.128,352 L907.672,352.8 L907.672,362.6 L901.128,361.8 A3.528,4.9 0 0 1 901.128,352 Z"/>
<ellipse class="hw" cx="907.672" cy="357.7" rx="3.528" ry="4.9"/>
<ellipse class="pb" cx="907.8720000000001" cy="357.9" rx="1.8" ry="2.9"/>
<ellipse class="d" cx="902.768" cy="356.9" rx="1.4" ry="1.4"/>
<path class="hw" d="M488.012,408 L498.388,408.8 L498.388,418.0 L488.012,417.2 A3.312,4.6 0 0 1 488.012,408 Z"/>
<ellipse class="hw" cx="498.388" cy="413.40000000000003" rx="3.312" ry="4.6"/>
<ellipse class="pb" cx="498.58799999999997" cy="413.6" rx="1.7" ry="2.8"/>
<ellipse class="d" cx="491.15999999999997" cy="412.6" rx="1.4" ry="1.4"/>
<path class="hw" d="M616.912,429 L627.288,429.8 L627.288,439.0 L616.912,438.2 A3.312,4.6 0 0 1 616.912,429 Z"/>
<ellipse class="hw" cx="627.288" cy="434.40000000000003" rx="3.312" ry="4.6"/>
<ellipse class="pb" cx="627.488" cy="434.6" rx="1.7" ry="2.8"/>
<ellipse class="d" cx="620.0600000000001" cy="433.6" rx="1.4" ry="1.4"/>
<path class="pw" d="M484,546.8000000000001 L489.2,547.8000000000001 Q490.2,549.2 489.2,550.4 L484,549.6 Z"/>
<path class="hw" d="M472.4,540.6 L483,541.6 L483,557.0 L472.4,556.0 A5,7.8 0 0 1 472.4,540.6 Z"/>
<ellipse class="hw" cx="482.6" cy="549.3000000000001" rx="5" ry="7.7"/>
<path class="pw" d="M482.4,547.6 L488.8,548.6 Q489.8,549.8000000000001 488.8,550.8000000000001 L482.4,550.0 Z"/>
<ellipse class="d" cx="467.6" cy="547.2" rx=".9" ry="1.6"/>
<path class="pw" d="M445.2,563.8000000000001 L450.4,564.8000000000001 Q451.4,566.2 450.4,567.4 L445.2,566.6 Z"/>
<path class="hw" d="M433.59999999999997,557.6 L444.2,558.6 L444.2,574.0 L433.59999999999997,573.0 A5,7.8 0 0 1 433.59999999999997,557.6 Z"/>
<ellipse class="hw" cx="443.8" cy="566.3000000000001" rx="5" ry="7.7"/>
<path class="pw" d="M443.59999999999997,564.6 L450.0,565.6 Q451.0,566.8000000000001 450.0,567.8000000000001 L443.59999999999997,567.0 Z"/>
<ellipse class="d" cx="428.8" cy="564.2" rx=".9" ry="1.6"/>
<path class="pw" d="M652.6,575.0 L657.8000000000001,576.0 Q658.8000000000001,577.4 657.8000000000001,578.5999999999999 L652.6,577.8 Z"/>
<path class="hw" d="M641.0,568.8 L651.6,569.8 L651.6,585.1999999999999 L641.0,584.1999999999999 A5,7.8 0 0 1 641.0,568.8 Z"/>
<ellipse class="hw" cx="651.2" cy="577.5" rx="5" ry="7.7"/>
<path class="pw" d="M651.0,575.8 L657.4,576.8 Q658.4,578.0 657.4,579.0 L651.0,578.1999999999999 Z"/>
<ellipse class="d" cx="636.2" cy="575.4" rx=".9" ry="1.6"/>
<path class="pw" d="M614,591.6 L619.2,592.6 Q620.2,594.0 619.2,595.1999999999999 L614,594.4 Z"/>
<path class="hw" d="M602.4,585.4 L613,586.4 L613,601.8 L602.4,600.8 A5,7.8 0 0 1 602.4,585.4 Z"/>
<ellipse class="hw" cx="612.6" cy="594.1" rx="5" ry="7.7"/>
<path class="pw" d="M612.4,592.4 L618.8,593.4 Q619.8,594.6 618.8,595.6 L612.4,594.8 Z"/>
<ellipse class="d" cx="597.6" cy="592.0" rx=".9" ry="1.6"/>
<rect class="pw" x="539.5" y="511.6" width="3" height="8.6" rx="1"/><path class="pb" d="M538.3,518.2 Q541,516.8000000000001 543.7,518.2 L543.7,522.6 Q541,524.4 538.3,522.6 Z"/>
<rect class="pw" x="508.7" y="525" width="3" height="8.6" rx="1"/><path class="pb" d="M507.5,531.6 Q510.2,530.2 512.9,531.6 L512.9,536 Q510.2,537.8 507.5,536 Z"/>
<rect class="pw" x="526.5" y="528.4" width="3" height="8.6" rx="1"/><path class="pb" d="M525.3,535.0 Q528,533.6 530.7,535.0 L530.7,539.4 Q528,541.1999999999999 525.3,539.4 Z"/>
<rect class="pw" x="558.1" y="514.8" width="3" height="8.6" rx="1"/><path class="pb" d="M556.9,521.4 Q559.6,520.0 562.3000000000001,521.4 L562.3000000000001,525.8 Q559.6,527.5999999999999 556.9,525.8 Z"/>
<g transform="translate(1030.7 468) rotate(9)"><rect class="pb" x="-6.2" y="-1.6" width="8" height="3.2" rx="1.5"/><rect class="pb" x="1" y="-2.1" width="5.4" height="4.2" rx="1.8"/><path d="M-3.6,-.2 L-.4,-.2 M3,-.1 L4.6,-.1" style="stroke:#fff;stroke-width:.8"/></g>
<g transform="translate(1006.3 479.4) rotate(9)"><rect class="pb" x="-6.2" y="-1.6" width="8" height="3.2" rx="1.5"/><rect class="pb" x="1" y="-2.1" width="5.4" height="4.2" rx="1.8"/><path d="M-3.6,-.2 L-.4,-.2 M3,-.1 L4.6,-.1" style="stroke:#fff;stroke-width:.8"/></g>
<g transform="translate(1041.4 515.6) rotate(9)"><rect class="pb" x="-6.2" y="-1.6" width="8" height="3.2" rx="1.5"/><rect class="pb" x="1" y="-2.1" width="5.4" height="4.2" rx="1.8"/><path d="M-3.6,-.2 L-.4,-.2 M3,-.1 L4.6,-.1" style="stroke:#fff;stroke-width:.8"/></g>
<g transform="translate(962 546.4) rotate(9)"><rect class="pb" x="-6.2" y="-1.6" width="8" height="3.2" rx="1.5"/><rect class="pb" x="1" y="-2.1" width="5.4" height="4.2" rx="1.8"/><path d="M-3.6,-.2 L-.4,-.2 M3,-.1 L4.6,-.1" style="stroke:#fff;stroke-width:.8"/></g>
<g transform="translate(970 557) rotate(9)"><rect class="pb" x="-6.2" y="-1.6" width="8" height="3.2" rx="1.5"/><rect class="pb" x="1" y="-2.1" width="5.4" height="4.2" rx="1.8"/><path d="M-3.6,-.2 L-.4,-.2 M3,-.1 L4.6,-.1" style="stroke:#fff;stroke-width:.8"/></g>
<g transform="translate(657.4 669.4) rotate(9)"><rect class="pw" x="2" y="-1.6" width="10" height="3.6" rx="1.6"/><rect class="pb" x="0" y="-2.4" width="5" height="5" rx="2"/></g>
<g transform="translate(766.2 687.6) rotate(9)"><rect class="pw" x="0" y="-1.6" width="9" height="3.6" rx="1.2"/><rect class="pb" x="4.4" y="-1.4" width="3" height="3.2"/><ellipse class="hw" cx="10" cy=".4" rx="2" ry="3"/></g>
<path class="pb" d="M666.6,638.4 L670.4,634.6 L680.6,638.6 L684.2,643.6 L682.4,648.6 L677.6,650 L669.6,646.6 Z"/>
<path d="M676.4,640.6 L681.6,643 L680.4,647.4 L676,645.4 Z" fill="#fff"/><path d="M669,639.4 l3,1.2 M670,642.6 l3,1.2" style="stroke:#fff;stroke-width:.6"/>
<rect class="pb" x="383.7" y="308" width="5" height="3.6" rx="1.2"/><rect class="pw" x="385" y="311" width="2.8" height="6.4" rx="1"/>
<path class="pb" d="M201.6,319.6 L206.8,319.2 L209.6,321.2 L207,323.4 L201.8,323 Z"/><path class="pb" d="M180.6,420 L186,419.6 L188.6,421.8 L186,424.2 L181,424 Z"/>
</g>
</g>
<g id="small">
<ellipse class="d" cx="200" cy="157" rx="3" ry="2.5"/>
<ellipse class="d" cx="192.5" cy="89.5" rx="4.5" ry="2"/>
<ellipse class="d" cx="181" cy="217" rx="1.8" ry="1.8"/>
<ellipse class="d" cx="182" cy="507" rx="4.5" ry="2" transform="rotate(-8 182 507)"/>
<ellipse class="d" cx="202" cy="510" rx="4.5" ry="2" transform="rotate(-8 202 510)"/>
<ellipse class="d" cx="222" cy="513" rx="4.5" ry="2" transform="rotate(-8 222 513)"/>
<ellipse class="d" cx="149" cy="521" rx="4.5" ry="2" transform="rotate(-8 149 521)"/>
<ellipse class="d" cx="169" cy="524" rx="4.5" ry="2" transform="rotate(-8 169 524)"/>
<ellipse class="d" cx="189" cy="527.5" rx="4.5" ry="2" transform="rotate(-8 189 527.5)"/>
<ellipse class="d" cx="186" cy="545" rx="5" ry="2.3" transform="rotate(-8 186 545)"/>
<ellipse class="d" cx="206" cy="548" rx="5" ry="2.3" transform="rotate(-8 206 548)"/>
<ellipse class="d" cx="226" cy="551" rx="5" ry="2.3" transform="rotate(-8 226 551)"/>
<ellipse class="d" cx="154" cy="559" rx="5" ry="2.3" transform="rotate(-8 154 559)"/>
<ellipse class="d" cx="174" cy="562" rx="5" ry="2.3" transform="rotate(-8 174 562)"/>
<ellipse class="d" cx="193" cy="565.5" rx="5" ry="2.3" transform="rotate(-8 193 565.5)"/>
<ellipse class="d" cx="174.5" cy="625.5" rx="1.8" ry="1.8"/>
<ellipse class="d" cx="244.5" cy="707" rx="2.8" ry="1.8" transform="rotate(25 244.5 707)"/>
<ellipse class="d" cx="274.5" cy="711.5" rx="2.8" ry="1.8" transform="rotate(25 274.5 711.5)"/>
<ellipse class="d" cx="467.5" cy="164" rx="3" ry="2.3"/>
<ellipse class="d" cx="485.5" cy="166" rx="3" ry="2.3"/>
<ellipse class="d" cx="498" cy="150" rx="3" ry="2.3"/>
<ellipse class="d" cx="517" cy="153" rx="3" ry="2.3"/>
<ellipse class="d" cx="456.4" cy="218.2" rx="2" ry="2"/>
<ellipse class="d" cx="360.8" cy="298.6" rx="2.3" ry="2.3"/>
<ellipse class="d" cx="388.5" cy="333" rx="3.5" ry="1.5"/>
<ellipse class="d" cx="391" cy="353" rx="3.5" ry="1.6"/>
<ellipse class="d" cx="392.5" cy="365.5" rx="3" ry="2.5"/>
<ellipse class="d" cx="300" cy="354" rx="2.5" ry="1.3"/>
<ellipse class="d" cx="340.5" cy="360.5" rx="2.5" ry="1.3"/>
<ellipse class="d" cx="342.5" cy="379" rx="3.5" ry="1.5"/>
<ellipse class="r" cx="458.2" cy="406.8" rx="3" ry="4" stroke-width="2.1"/>
<ellipse class="d" cx="492.8" cy="411" rx="1.5" ry="1.5"/>
<ellipse class="d" cx="442" cy="432" rx="3.5" ry="3"/>
<ellipse class="r" cx="478" cy="438" rx="3.0" ry="4" stroke-width="2.1"/>
<ellipse class="d" cx="403" cy="449" rx="3.5" ry="3"/>
<ellipse class="r" cx="440" cy="455" rx="3.0" ry="4.0" stroke-width="2.1"/>
<ellipse class="d" cx="490.5" cy="445" rx="1.3" ry="1.3"/>
<ellipse class="d" cx="507.4" cy="509" rx="4" ry="1.7"/>
<ellipse class="d" cx="538.2" cy="495.5" rx="4" ry="1.7"/>
<ellipse class="d" cx="556.3" cy="498.1" rx="4.2" ry="1.7"/>
<ellipse class="d" cx="525.5" cy="511.9" rx="4.2" ry="1.8"/>
<ellipse class="d" cx="474.2" cy="546.8" rx="1.4" ry="1.4"/>
<ellipse class="d" cx="434.2" cy="566" rx="1.4" ry="1.4"/>
<ellipse class="d" cx="462.4" cy="569.5" rx="2.6" ry="3"/>
<ellipse class="d" cx="480.2" cy="573.2" rx="2.3" ry="2.8"/>
<ellipse class="r" cx="499" cy="575.6" rx="2.3" ry="2.5" stroke-width="2.1"/>
<ellipse class="d" cx="536.9" cy="558.6" rx="3.2" ry="3.3"/>
<ellipse class="d" cx="500.4" cy="553.3" rx="2.7" ry="2.9"/>
<ellipse class="d" cx="518.3" cy="555.9" rx="2.3" ry="2.4"/>
<ellipse class="r" cx="531.7" cy="581" rx="2.3" ry="2.4" stroke-width="2.1"/>
<ellipse class="d" cx="550.3" cy="584.1" rx="2.3" ry="2.4"/>
<ellipse class="d" cx="568.4" cy="587.3" rx="2.5" ry="2.7"/>
<ellipse class="d" cx="362" cy="655" rx="3.2" ry="2.6"/>
<ellipse class="d" cx="392" cy="660" rx="3.2" ry="2.6"/>
<ellipse class="d" cx="421" cy="664.5" rx="3.2" ry="2.6"/>
<ellipse class="d" cx="452" cy="669.5" rx="3.2" ry="2.6"/>
<ellipse class="d" cx="325" cy="671" rx="2.8" ry="1.8" transform="rotate(25 325 671)"/>
<ellipse class="d" cx="355" cy="676" rx="2.8" ry="1.8" transform="rotate(25 355 676)"/>
<ellipse class="d" cx="385" cy="681" rx="2.8" ry="1.8" transform="rotate(25 385 681)"/>
<ellipse class="d" cx="415" cy="686" rx="2.8" ry="2.2" transform="rotate(25 415 686)"/>
<ellipse class="d" cx="304" cy="717" rx="2.8" ry="1.8" transform="rotate(25 304 717)"/>
<ellipse class="d" cx="335" cy="723" rx="3" ry="2.2" transform="rotate(25 335 723)"/>
<ellipse class="r" cx="638" cy="268.9" rx="2.4" ry="3.1" stroke-width="2.1"/>
<ellipse class="d" cx="733" cy="226.8" rx="2.8" ry="2.8"/>
<ellipse class="r" cx="645" cy="314" rx="3.0" ry="4.0" stroke-width="2.1"/>
<ellipse class="d" cx="811" cy="357.5" rx="2.8" ry="2.5"/>
<ellipse class="r" cx="660" cy="439" rx="3.0" ry="4.0" stroke-width="2.1"/>
<ellipse class="d" cx="815.5" cy="397.5" rx="2.8" ry="2.3"/>
<ellipse class="d" cx="820.1" cy="436.2" rx="3" ry="2.3" transform="rotate(-30 820.1 436.2)"/>
<ellipse class="r" cx="604" cy="459" rx="3.0" ry="4.0" stroke-width="2.1"/>
<ellipse class="d" cx="640" cy="465.5" rx="4" ry="2.5"/>
<ellipse class="r" cx="566" cy="475.5" rx="3.0" ry="4.0" stroke-width="2.1"/>
<ellipse class="d" cx="601" cy="481.5" rx="4" ry="2.5"/>
<ellipse class="d" cx="588.3" cy="567.4" rx="2.4" ry="2.8"/>
<ellipse class="d" cx="606.5" cy="570.5" rx="2.6" ry="3"/>
<ellipse class="d" cx="643.5" cy="573" rx="1.4" ry="1.4"/>
<ellipse class="d" cx="611.5" cy="589.8" rx="1.4" ry="1.4"/>
<ellipse class="d" cx="569.7" cy="564.3" rx="3" ry="3"/>
<ellipse class="d" cx="927.8" cy="185.8" rx="1" ry="1"/>
<ellipse class="d" cx="889" cy="252" rx="2.6" ry="3"/>
<ellipse class="r" cx="943.5" cy="363" rx="3.0" ry="4.0" stroke-width="2.1"/>
<ellipse class="d" cx="863.8" cy="446.5" rx="1.2" ry="1.2"/>
<ellipse class="d" cx="927" cy="465" rx="2.5" ry="3.3"/>
<ellipse class="d" cx="951.5" cy="454" rx="2.3" ry="2.8"/>
<ellipse class="d" cx="988" cy="460" rx="2.3" ry="2.5"/>
<ellipse class="d" cx="963" cy="472" rx="2.6" ry="2.2"/>
<ellipse class="d" cx="962" cy="502" rx="2.5" ry="3.3"/>
<ellipse class="d" cx="998.5" cy="508" rx="2.3" ry="2.5"/>
<ellipse class="d" cx="919.5" cy="539" rx="2.3" ry="2.5"/>
<ellipse class="d" cx="883" cy="534" rx="2.4" ry="3"/>
<ellipse class="d" cx="911" cy="548" rx="2.4" ry="3"/>
<ellipse class="d" cx="946.5" cy="554" rx="2.3" ry="2.8"/>
<ellipse class="d" cx="926.9" cy="673" rx="1.5" ry="1.5"/>
<g transform="translate(203.5 723.6) rotate(-35)"><rect class="pb" x="-1" y="-2" width="5" height="4" rx="1"/><ellipse class="r" cx="-3" cy="0" rx="2" ry="2.3" stroke-width="1.2"/></g>
<g transform="translate(232.9 728.7) rotate(-35)"><rect class="pb" x="-1" y="-2" width="5" height="4" rx="1"/><ellipse class="r" cx="-3" cy="0" rx="2" ry="2.3" stroke-width="1.2"/></g>
<g transform="translate(263.3 733.4) rotate(-35)"><rect class="pb" x="-1" y="-2" width="5" height="4" rx="1"/><ellipse class="r" cx="-3" cy="0" rx="2" ry="2.3" stroke-width="1.2"/></g>
<g transform="translate(292.9 738) rotate(-35)"><rect class="pb" x="-1" y="-2" width="5" height="4" rx="1"/><ellipse class="r" cx="-3" cy="0" rx="2" ry="2.3" stroke-width="1.2"/></g>
</g>
<g id="leaders" class="k">
<line x1="168.75" y1="53" x2="190" y2="67"/>
<line x1="160" y1="108" x2="188" y2="122"/>
<line x1="158" y1="141.5" x2="199" y2="157"/>
<line x1="149" y1="200" x2="180" y2="216"/>
<line x1="158" y1="269.5" x2="201" y2="289"/>
<line x1="161" y1="304" x2="204" y2="320.5"/>
<line x1="196" y1="330.7" x2="249" y2="345"/>
<line x1="142.5" y1="361" x2="182.5" y2="380.5"/>
<line x1="216.7" y1="369.7" x2="254" y2="384"/>
<line x1="137" y1="407" x2="182.5" y2="421.5"/>
<line x1="195.5" y1="428.5" x2="179.5" y2="453.4"/>
<line x1="217" y1="433" x2="199.2" y2="455.8"/>
<line x1="239" y1="440.5" x2="218.5" y2="459.3"/>
<line x1="122" y1="494" x2="143.8" y2="478.6"/>
<line x1="144.5" y1="497" x2="163.6" y2="482.5"/>
<line x1="167" y1="500.5" x2="183.9" y2="486.5"/>
<line x1="203" y1="488" x2="185" y2="505.5"/>
<line x1="224" y1="492" x2="204.5" y2="508.5"/>
<line x1="242.5" y1="500.5" x2="225" y2="512"/>
<line x1="127.5" y1="533.5" x2="147" y2="522"/>
<line x1="152" y1="539" x2="167" y2="525.5"/>
<line x1="172.5" y1="542" x2="187" y2="529"/>
<line x1="209" y1="532" x2="190" y2="543.5"/>
<line x1="234.5" y1="533.5" x2="209.5" y2="547"/>
<line x1="256" y1="541" x2="230.5" y2="550"/>
<line x1="144.5" y1="576.5" x2="151" y2="560.5"/>
<line x1="164" y1="580" x2="170.5" y2="563.5"/>
<line x1="185" y1="582" x2="189.5" y2="567"/>
<line x1="138" y1="646.5" x2="174.5" y2="625"/>
<line x1="269.8" y1="661.6" x2="279.8" y2="683.4"/>
<line x1="203.1" y1="697.9" x2="204.3" y2="721.3"/>
<line x1="231.7" y1="697.9" x2="233.5" y2="727"/>
<line x1="261.6" y1="702" x2="263.5" y2="731"/>
<line x1="289.6" y1="704.9" x2="293.6" y2="735.8"/>
<line x1="447" y1="147" x2="466" y2="162.5"/>
<line x1="539" y1="133" x2="518.5" y2="151"/>
<line x1="403" y1="185" x2="455" y2="217"/>
<line x1="389" y1="274" x2="360.5" y2="298"/>
<line x1="409" y1="294" x2="388" y2="310.5"/>
<line x1="417" y1="333.5" x2="392.5" y2="352.5"/>
<line x1="414" y1="352" x2="394" y2="364"/>
<line x1="342.5" y1="317.5" x2="338" y2="335.5"/>
<line x1="292" y1="343" x2="299" y2="353"/>
<line x1="327" y1="370" x2="340.5" y2="360.5"/>
<line x1="272.6" y1="369" x2="290.7" y2="396.5"/>
<line x1="416" y1="378" x2="423.5" y2="400.5"/>
<line x1="451" y1="383" x2="458.3" y2="404"/>
<line x1="483.2" y1="382.2" x2="492.8" y2="411"/>
<line x1="535" y1="382.2" x2="548.2" y2="420.6"/>
<line x1="435" y1="417" x2="441" y2="431"/>
<line x1="472.5" y1="418.5" x2="478" y2="437"/>
<line x1="392" y1="465" x2="402" y2="450.5"/>
<line x1="423" y1="477" x2="439" y2="456"/>
<line x1="454" y1="485.5" x2="490.5" y2="445"/>
<line x1="484.7" y1="499.2" x2="504.2" y2="508"/>
<line x1="524.4" y1="492.3" x2="539.8" y2="516.6"/>
<line x1="487.7" y1="523.8" x2="509" y2="531.1"/>
<line x1="541.4" y1="538.4" x2="530.1" y2="535.5"/>
<line x1="452.4" y1="526.3" x2="474.2" y2="546.8"/>
<line x1="412" y1="581" x2="434" y2="566"/>
<line x1="444" y1="585" x2="461.8" y2="570.8"/>
<line x1="466.1" y1="587" x2="479.1" y2="574.8"/>
<line x1="489.6" y1="588.3" x2="498.5" y2="577.3"/>
<line x1="525.2" y1="565.1" x2="535.7" y2="559.5"/>
<line x1="562.1" y1="567.6" x2="568.9" y2="564.3"/>
<line x1="362" y1="658" x2="362" y2="671.5"/>
<line x1="392" y1="663" x2="392" y2="678"/>
<line x1="422" y1="667" x2="422.5" y2="684"/>
<line x1="452" y1="672" x2="452" y2="689.5"/>
<line x1="424" y1="714" x2="415.5" y2="687"/>
<line x1="342" y1="741.5" x2="335.5" y2="724"/>
<line x1="738.6" y1="46.2" x2="752.8" y2="41.75"/>
<line x1="588.8" y1="221.1" x2="560.8" y2="253.2"/>
<line x1="611.9" y1="230.9" x2="588.1" y2="257.1"/>
<line x1="637" y1="235.9" x2="624.8" y2="249.6"/>
<line x1="657.2" y1="246.7" x2="639.5" y2="267.2"/>
<line x1="670.9" y1="257.5" x2="662.2" y2="270.9"/>
<line x1="692.4" y1="228" x2="696.8" y2="251"/>
<line x1="733.7" y1="229.4" x2="735.3" y2="249.4"/>
<line x1="791.6" y1="256.1" x2="792.6" y2="237"/>
<line x1="815.5" y1="262.2" x2="816.4" y2="241.2"/>
<line x1="593.5" y1="327" x2="602" y2="308"/>
<line x1="637" y1="333" x2="644" y2="316"/>
<line x1="672" y1="340" x2="682" y2="322"/>
<line x1="713.5" y1="349" x2="723.5" y2="329"/>
<line x1="734" y1="355.5" x2="744" y2="332.5"/>
<line x1="795" y1="382" x2="810" y2="358.5"/>
<line x1="581.2" y1="387.3" x2="576.3" y2="425"/>
<line x1="617.5" y1="397" x2="621" y2="431"/>
<line x1="654.5" y1="404" x2="660" y2="438.5"/>
<line x1="682" y1="407" x2="691" y2="443.5"/>
<line x1="741.5" y1="421.8" x2="751" y2="446.5"/>
<line x1="804.9" y1="413.8" x2="815" y2="398.5"/>
<line x1="818.7" y1="438.6" x2="812.8" y2="454.4"/>
<line x1="605" y1="461" x2="614" y2="480.5"/>
<line x1="638.5" y1="467" x2="638.5" y2="482"/>
<line x1="567" y1="478" x2="580" y2="500"/>
<line x1="600.5" y1="483.5" x2="600.5" y2="498.5"/>
<line x1="560" y1="498.8" x2="581.9" y2="521.4"/>
<line x1="565.4" y1="529.5" x2="559.2" y2="523"/>
<line x1="611" y1="549" x2="589" y2="567"/>
<line x1="635.5" y1="553.5" x2="607" y2="570"/>
<line x1="675" y1="560.5" x2="643.5" y2="573"/>
<line x1="612" y1="590" x2="636" y2="601"/>
<line x1="577" y1="660.5" x2="551.7" y2="637.8"/>
<line x1="657" y1="651" x2="668.5" y2="641.5"/>
<line x1="660" y1="671.5" x2="641" y2="696"/>
<line x1="692" y1="702" x2="708" y2="685"/>
<line x1="771" y1="690" x2="753.5" y2="716.5"/>
<line x1="944.4" y1="222.4" x2="928" y2="186"/>
<line x1="889" y1="255" x2="893" y2="283"/>
<line x1="929" y1="267" x2="931" y2="285.5"/>
<line x1="861" y1="353" x2="851.5" y2="378"/>
<line x1="903" y1="360.5" x2="893.5" y2="387"/>
<line x1="942" y1="368" x2="934" y2="393"/>
<line x1="985" y1="372" x2="978" y2="398"/>
<line x1="858.3" y1="431.7" x2="863.8" y2="446.5"/>
<line x1="927" y1="433.5" x2="927" y2="463"/>
<line x1="973" y1="431.5" x2="953" y2="453"/>
<line x1="1011" y1="442" x2="989.5" y2="459"/>
<line x1="1051" y1="451" x2="1031.5" y2="466"/>
<line x1="961.5" y1="474" x2="946" y2="495"/>
<line x1="976.5" y1="476.5" x2="963.5" y2="500"/>
<line x1="1007" y1="480.5" x2="988" y2="502"/>
<line x1="1018.5" y1="491" x2="999.5" y2="506.5"/>
<line x1="1054.5" y1="503.5" x2="1041.5" y2="513"/>
<line x1="939" y1="519" x2="920" y2="538"/>
<line x1="976.5" y1="528" x2="962" y2="545"/>
<line x1="970" y1="558" x2="978" y2="584"/>
<line x1="883" y1="536.5" x2="887" y2="566"/>
<line x1="911.5" y1="550.5" x2="918" y2="575.5"/>
<line x1="947" y1="556.5" x2="953" y2="582"/>
<line x1="903.9" y1="642.4" x2="926.9" y2="672.7"/>
</g>
<g id="labels">
<text transform="translate(149.5 59.8) scale(1.1 1)">50</text>
<text transform="translate(141.5 114.8) scale(1.1 1)">19</text>
<text transform="translate(139 148.3) scale(1.1 1)">49</text>
<text transform="translate(129.5 205.8) scale(1.1 1)">18</text>
<text transform="translate(139 276.3) scale(1.1 1)">46</text>
<text transform="translate(142 311.3) scale(1.1 1)">48</text>
<text transform="translate(178.1 338.4) scale(1.1 1)">44</text>
<text transform="translate(123.5 368.3) scale(1.1 1)">47</text>
<text transform="translate(199.3 376) scale(1.1 1)">42</text>
<text transform="translate(120 413.8) scale(1.1 1)">48</text>
<text transform="translate(196 436.8) scale(1.1 1)">32</text>
<text transform="translate(218 441.3) scale(1.1 1)">32</text>
<text transform="translate(239.5 449.3) scale(1.1 1)">32</text>
<text transform="translate(103.5 501.8) scale(1.1 1)">32</text>
<text transform="translate(126.5 506.3) scale(1.1 1)">32</text>
<text transform="translate(149.5 509.3) scale(1.1 1)">32</text>
<text transform="translate(204.5 496.8) scale(1.1 1)">31</text>
<text transform="translate(225 500.8) scale(1.1 1)">31</text>
<text transform="translate(243.5 508.8) scale(1.1 1)">31</text>
<text transform="translate(111 541.3) scale(1.1 1)">31</text>
<text transform="translate(136 548.3) scale(1.1 1)">31</text>
<text transform="translate(156.5 550.3) scale(1.1 1)">31</text>
<text transform="translate(209 541.3) scale(1.1 1)">8</text>
<text transform="translate(234.5 542.3) scale(1.1 1)">8</text>
<text transform="translate(256 550.3) scale(1.1 1)">8</text>
<text transform="translate(136 586.8) scale(1.1 1)">8</text>
<text transform="translate(156 590.8) scale(1.1 1)">8</text>
<text transform="translate(177 593.8) scale(1.1 1)">8</text>
<text transform="translate(130 654.3) scale(1.1 1)">2</text>
<text transform="translate(252 664.3) scale(1.1 1)">33</text>
<text transform="translate(186.5 698.3) scale(1.1 1)">50</text>
<text transform="translate(215 698.3) scale(1.1 1)">50</text>
<text transform="translate(245.4 702.9) scale(1.1 1)">50</text>
<text transform="translate(272.3 705.7) scale(1.1 1)">50</text>
<text transform="translate(430 154.3) scale(1.1 1)">41</text>
<text transform="translate(539.5 142.3) scale(1.1 1)">41</text>
<text transform="translate(394 192.3) scale(1.1 1)">5</text>
<text transform="translate(389.5 282.3) scale(1.1 1)">9</text>
<text transform="translate(409 302.8) scale(1.1 1)">50</text>
<text transform="translate(418 342.3) scale(1.1 1)">42</text>
<text transform="translate(414.5 360.8) scale(1.1 1)">49</text>
<text transform="translate(342 327.3) scale(1.1 1)">44</text>
<text transform="translate(273.5 346.3) scale(1.1 1)">43</text>
<text transform="translate(309.5 378.3) scale(1.1 1)">43</text>
<text transform="translate(289.5 407.3) scale(1.1 1)">43</text>
<text transform="translate(399 381.3) scale(1.1 1)">36</text>
<text transform="translate(434 385.8) scale(1.1 1)">38</text>
<text transform="translate(467.5 385.8) scale(1.1 1)">10</text>
<text transform="translate(519 386.9) scale(1.1 1)">37</text>
<text transform="translate(417 421.3) scale(1.1 1)">35</text>
<text transform="translate(456 422.3) scale(1.1 1)">34</text>
<text transform="translate(374 474.3) scale(1.1 1)">35</text>
<text transform="translate(406.5 485.8) scale(1.1 1)">34</text>
<text transform="translate(446.5 496.3) scale(1.1 1)">4</text>
<text transform="translate(468 507.2) scale(1.1 1)">21</text>
<text transform="translate(507.2 498.3) scale(1.1 1)">40</text>
<text transform="translate(469.5 530.6) scale(1.1 1)">40</text>
<text transform="translate(542 546.8) scale(1.1 1)">40</text>
<text transform="translate(444.9 535.2) scale(1.1 1)">3</text>
<text transform="translate(403 589.3) scale(1.1 1)">3</text>
<text transform="translate(426.3 593.7) scale(1.1 1)">53</text>
<text transform="translate(449.8 597) scale(1.1 1)">52</text>
<text transform="translate(472.4 598.9) scale(1.1 1)">54</text>
<text transform="translate(508.8 574.3) scale(1.1 1)">54</text>
<text transform="translate(544.4 577.1) scale(1.1 1)">54</text>
<text transform="translate(362.5 681.8) scale(1.1 1)">49</text>
<text transform="translate(392.5 688.3) scale(1.1 1)">49</text>
<text transform="translate(422.5 693.3) scale(1.1 1)">49</text>
<text transform="translate(452 698.8) scale(1.1 1)">49</text>
<text transform="translate(424.5 723.8) scale(1.1 1)">42</text>
<text transform="translate(342.5 750.3) scale(1.1 1)">42</text>
<text transform="translate(723.1 54) scale(1.1 1)">51</text>
<text transform="translate(588.6 229.5) scale(1.1 1)">6</text>
<text transform="translate(611.6 238.7) scale(1.1 1)">20</text>
<text transform="translate(636 243.9) scale(1.1 1)">7</text>
<text transform="translate(656.2 254.9) scale(1.1 1)">21</text>
<text transform="translate(672.7 265) scale(1.1 1)">22</text>
<text transform="translate(697.2 258.3) scale(1.1 1)">30</text>
<text transform="translate(735.8 257.9) scale(1.1 1)">29</text>
<text transform="translate(774.4 266.3) scale(1.1 1)">28</text>
<text transform="translate(813.9 272.6) scale(1.1 1)">28</text>
<text transform="translate(577.5 337.3) scale(1.1 1)">39</text>
<text transform="translate(622.5 343.8) scale(1.1 1)">38</text>
<text transform="translate(656 351.3) scale(1.1 1)">23</text>
<text transform="translate(697 360.3) scale(1.1 1)">24</text>
<text transform="translate(718 367.3) scale(1.1 1)">13</text>
<text transform="translate(777.5 391.3) scale(1.1 1)">55</text>
<text transform="translate(566.4 389.1) scale(1.1 1)">37</text>
<text transform="translate(601 397.8) scale(1.1 1)">10</text>
<text transform="translate(637.5 406.3) scale(1.1 1)">38</text>
<text transform="translate(665 408.8) scale(1.1 1)">36</text>
<text transform="translate(723.7 423.4) scale(1.1 1)">25</text>
<text transform="translate(787 424.4) scale(1.1 1)">43</text>
<text transform="translate(796 462.6) scale(1.1 1)">42</text>
<text transform="translate(614.5 489.3) scale(1.1 1)">34</text>
<text transform="translate(637.5 492.3) scale(1.1 1)">35</text>
<text transform="translate(579 508.3) scale(1.1 1)">34</text>
<text transform="translate(601 508.3) scale(1.1 1)">35</text>
<text transform="translate(582.5 530.6) scale(1.1 1)">21</text>
<text transform="translate(565.5 538.4) scale(1.1 1)">40</text>
<text transform="translate(611 558.3) scale(1.1 1)">52</text>
<text transform="translate(635.5 562.3) scale(1.1 1)">53</text>
<text transform="translate(675.5 570.3) scale(1.1 1)">3</text>
<text transform="translate(635.5 609.3) scale(1.1 1)">3</text>
<text transform="translate(576 670.3) scale(1.1 1)">1</text>
<text transform="translate(639.5 661.3) scale(1.1 1)">27</text>
<text transform="translate(626 703.3) scale(1.1 1)">11</text>
<text transform="translate(675.5 713.3) scale(1.1 1)">12</text>
<text transform="translate(738 726.3) scale(1.1 1)">11</text>
<text transform="translate(945 232.5) scale(1.1 1)">14</text>
<text transform="translate(892.5 292.3) scale(1.1 1)">29</text>
<text transform="translate(931 295.3) scale(1.1 1)">30</text>
<text transform="translate(835 387.3) scale(1.1 1)">23</text>
<text transform="translate(877 396.3) scale(1.1 1)">24</text>
<text transform="translate(917.5 403.8) scale(1.1 1)">38</text>
<text transform="translate(960 407.3) scale(1.1 1)">39</text>
<text transform="translate(841 434.3) scale(1.1 1)">26</text>
<text transform="translate(927.5 443.3) scale(1.1 1)">42</text>
<text transform="translate(974 440.3) scale(1.1 1)">42</text>
<text transform="translate(1011 450.3) scale(1.1 1)">43</text>
<text transform="translate(1052 460.3) scale(1.1 1)">45</text>
<text transform="translate(929 505.3) scale(1.1 1)">43</text>
<text transform="translate(977.5 485.3) scale(1.1 1)">42</text>
<text transform="translate(969 510.8) scale(1.1 1)">45</text>
<text transform="translate(1018.5 500.3) scale(1.1 1)">43</text>
<text transform="translate(1055 512.3) scale(1.1 1)">45</text>
<text transform="translate(940 527.3) scale(1.1 1)">43</text>
<text transform="translate(977 536.8) scale(1.1 1)">45</text>
<text transform="translate(977 593.3) scale(1.1 1)">45</text>
<text transform="translate(887.5 576.3) scale(1.1 1)">42</text>
<text transform="translate(917 584.3) scale(1.1 1)">42</text>
<text transform="translate(953 592.3) scale(1.1 1)">43</text>
<text transform="translate(893.7 641.3) scale(1.1 1)">56</text>
</g>
</svg>
</body>
</html>
